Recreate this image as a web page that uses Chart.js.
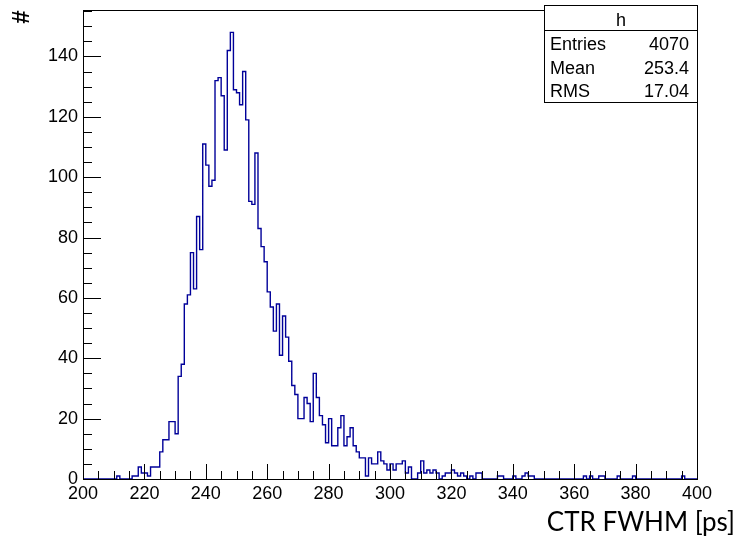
<!DOCTYPE html>
<html>
<head>
<meta charset="utf-8">
<script src="https://cdn.jsdelivr.net/npm/chart.js@4/dist/chart.umd.min.js"></script>
<style>
html,body{margin:0;padding:0;background:#ffffff;}
#wrap{width:747px;height:540px;position:relative;}
</style>
</head>
<body>
<div id="wrap"><canvas id="c" width="747" height="540"></canvas></div>
<script>
// ---- data (histogram h, 1 ps bins from 200 to 400 ps) ----
const binLow = 200;
const binWidth = 1;
const counts = [
  0,0,0,0,0,0,0,0,0,0,            // 200-209
  0,1,0,0,0,0,1,1,4,2,            // 210-219
  2,1,4,4,4,9,13,13,19,19,        // 220-229
  15,34,38,58,61,75,63,87,76,111, // 230-239
  104,97,99,132,133,127,109,142,148,129, // 240-249
  128,124,135,119,92,91,108,83,77,72,    // 250-259
  62,57,49,58,41,54,47,39,31,28,  // 260-269
  20,20,27,25,19,35,27,21,18,12,  // 270-279
  20,11,11,17,21,11,14,17,11,9,   // 280-289
  7,7,1,7,5,5,9,6,5,3,            // 290-299
  5,3,5,5,6,2,4,0,0,2,            // 300-309
  6,2,3,2,3,2,0,1,2,2,            // 310-319
  3,2,1,2,1,0,1,0,2,2,            // 320-329
  0,0,0,0,0,1,1,0,0,0,            // 330-339
  1,0,0,1,2,1,1,0,0,0,            // 340-349
  0,0,0,0,0,0,0,0,0,0,            // 350-359
  0,0,0,1,0,1,0,0,1,1,            // 360-369
  0,0,0,0,1,0,0,0,0,1,            // 370-379
  0,0,0,0,0,0,0,0,0,0,            // 380-389
  0,0,0,0,0,1,0,0,0,0             // 390-399
];
const xTickValues = [200,220,240,260,280,300,320,340,360,380,400];
const yTickValues = [0,20,40,60,80,100,120,140];
const xRange = [200, 400];
const yRange = [0, 155.4];
const statsTitle = 'h';
const statsLabels = ['Entries', 'Mean', 'RMS'];
const statsValues = ['4070', '253.4', '17.04'];
const xTitle = 'CTR FWHM [ps]';
const yTitle = '#';

// ---- build step outline points from the bins ----
const points = counts.map((v, i) => ({ x: binLow + i * binWidth, y: v }));
points.push({ x: binLow + counts.length * binWidth, y: counts[counts.length - 1] });

const FONT = '"Liberation Sans", Arial, Helvetica, sans-serif';

const rootDecor = {
  id: 'rootDecor',
  afterDraw(chart) {
    const ctx = chart.ctx;
    const a = chart.chartArea;
    const xs = chart.scales.x, ys = chart.scales.y;
    ctx.save();
    ctx.strokeStyle = '#000';
    ctx.lineWidth = 1;
    // frame
    ctx.strokeRect(Math.round(a.left) + 0.5, Math.round(a.top) + 0.5,
                   Math.round(a.right - a.left), Math.round(a.bottom - a.top));
    // x ticks (inward)
    ctx.beginPath();
    for (let v = xRange[0]; v <= xRange[1] + 1e-9; v += 5) {
      const px = Math.round(xs.getPixelForValue(v)) + 0.5;
      const len = (v % 20 === 0) ? 15 : 8;
      ctx.moveTo(px, a.bottom);
      ctx.lineTo(px, a.bottom - len);
    }
    // y ticks (inward)
    for (let v = 0; v <= yRange[1]; v += 5) {
      const py = Math.round(ys.getPixelForValue(v)) + 0.5;
      const len = (v % 20 === 0) ? 18 : 9;
      ctx.moveTo(a.left, py);
      ctx.lineTo(a.left + len, py);
    }
    ctx.stroke();

    // y title "#"
    ctx.fillStyle = '#000';
    ctx.save();
    ctx.translate(22, 17);
    ctx.rotate(-Math.PI / 2);
    ctx.font = 'bold 24px ' + FONT;
    ctx.textAlign = 'center';
    ctx.textBaseline = 'middle';
    ctx.fillText(yTitle, 0, 0);
    ctx.restore();

    // x title
    ctx.font = '26px Lato, "Open Sans", sans-serif';
    ctx.textAlign = 'right';
    ctx.textBaseline = 'alphabetic';
    ctx.fillText(xTitle, 735, 531);

    // stats box
    const bx = 544.5, by = 5.5, bw = 153, bh = 97;
    ctx.fillStyle = '#fff';
    ctx.fillRect(bx, by, bw, bh);
    ctx.strokeRect(bx, by, bw, bh);
    ctx.beginPath();
    ctx.moveTo(bx, 30.5);
    ctx.lineTo(bx + bw, 30.5);
    ctx.stroke();
    ctx.fillStyle = '#000';
    ctx.font = '18px ' + FONT;
    ctx.textAlign = 'center';
    ctx.fillText(statsTitle, bx + bw / 2, 26);
    const baselines = [50, 73.5, 96.5];
    statsLabels.forEach((lab, i) => {
      ctx.textAlign = 'left';
      ctx.fillText(lab, 550, baselines[i]);
      ctx.textAlign = 'right';
      ctx.fillText(statsValues[i], 689, baselines[i]);
    });
    ctx.restore();
  }
};

new Chart(document.getElementById('c'), {
  type: 'line',
  data: {
    datasets: [{
      label: 'h',
      data: points,
      stepped: 'before',
      borderColor: '#000099',
      borderWidth: 1.4,
      pointRadius: 0,
      fill: false,
      tension: 0
    }]
  },
  options: {
    responsive: false,
    animation: false,
    devicePixelRatio: 1,
    layout: { padding: { left: 0, right: 50, top: 10, bottom: 0 } },
    plugins: { legend: { display: false }, tooltip: { enabled: false } },
    scales: {
      x: {
        type: 'linear',
        min: xRange[0], max: xRange[1],
        afterBuildTicks: (s) => { s.ticks = xTickValues.map(v => ({ value: v })); },
        afterFit: (s) => { s.height = 61; },
        grid: { display: false, drawTicks: false },
        border: { display: false },
        ticks: { color: '#000', font: { family: FONT, size: 18 }, padding: 4, maxRotation: 0, autoSkip: false }
      },
      y: {
        type: 'linear',
        min: yRange[0], max: yRange[1],
        afterBuildTicks: (s) => { s.ticks = yTickValues.map(v => ({ value: v })); },
        afterFit: (s) => { s.width = 83; s.paddingTop = 0; s.paddingBottom = 0; },
        grid: { display: false, drawTicks: false },
        border: { display: false },
        ticks: { color: '#000', font: { family: FONT, size: 18, lineHeight: 0.6 }, padding: 5 }
      }
    }
  },
  plugins: [rootDecor]
});
</script>
</body>
</html>
